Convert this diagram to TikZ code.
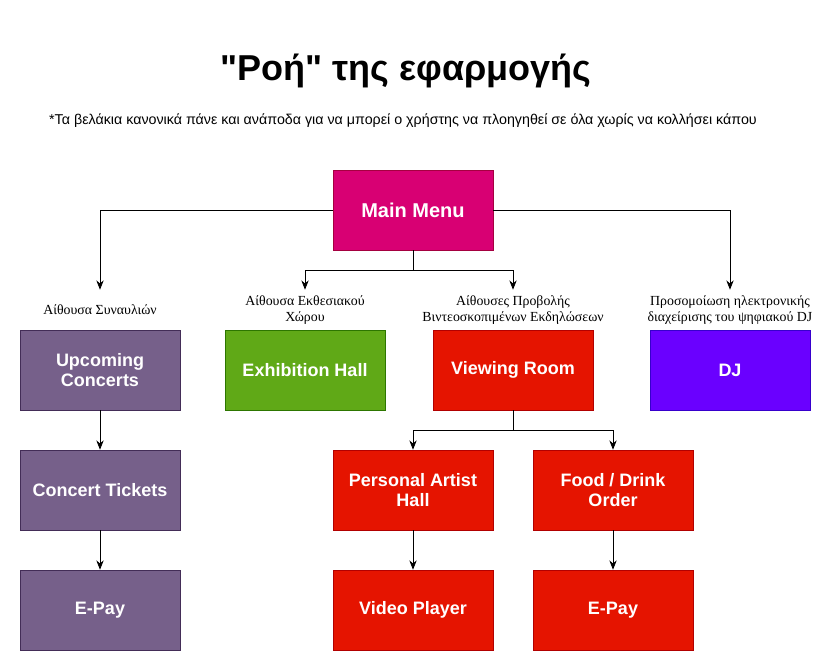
\documentclass[tikz,border=0pt]{standalone}
\usepackage{fontspec}
\setmainfont{Liberation Sans}
\newfontfamily\roomfont{Liberation Serif}
\usetikzlibrary{arrows.meta}

\definecolor{menupink}{HTML}{D80073}
\definecolor{menuline}{HTML}{A50040}
\definecolor{grape}{HTML}{76608A}
\definecolor{grapeline}{HTML}{432D57}
\definecolor{leaf}{HTML}{60A917}
\definecolor{leafline}{HTML}{2D7600}
\definecolor{alarm}{HTML}{E51400}
\definecolor{alarmline}{HTML}{B20000}
\definecolor{violet}{HTML}{6A00FF}
\definecolor{violetline}{HTML}{3700CC}

\begin{document}
\begin{tikzpicture}[x=0.75pt,y=-0.75pt,
    box/.style 2 args={draw=#2, fill=#1, minimum width=120pt, minimum height=60pt,
        text=white, align=center, font=\bfseries\fontsize{13.5}{15.5}\selectfont},
    room/.style={align=center, minimum height=30pt, inner sep=0pt,
        font=\roomfont\fontsize{10.4}{11.5}\selectfont},
    link/.style={-{Stealth[length=7pt,width=5.5pt]}, semithick}]

\useasboundingbox (0,0) rectangle (836,671);

% heading
\node[font=\bfseries\fontsize{27}{31}\selectfont] (title) at (406,71)
    {\textquotedbl Ροή\textquotedbl{} της εφαρμογής};
\node[font=\fontsize{10.7}{12}\selectfont] (note) at (403,121)
    {*Τα βελάκια κανονικά πάνε και ανάποδα για να μπορεί ο χρήστης να πλοηγηθεί σε όλα χωρίς να κολλήσει κάπου};

% main menu
\node[box={menupink}{menuline}, font=\bfseries\fontsize{15}{17}\selectfont] (menu) at (413,210) {Main Menu};

% rooms
\node[room] (lconc) at (100,310) {Αίθουσα Συναυλιών};
\node[room] (lexh)  at (305,310) {Αίθουσα Εκθεσιακού\\Χώρου};
\node[room] (lview) at (513,310) {Αίθουσες Προβολής\\Βιντεοσκοπιμένων Εκδηλώσεων};
\node[room] (ldj)   at (730,310) {Προσομοίωση ηλεκτρονικής\\διαχείρισης του ψηφιακού DJ};

\node[box={grape}{grapeline}] (conc) at (100,370) {Upcoming\\Concerts};
\node[box={leaf}{leafline}]   (exh)  at (305,370) {Exhibition Hall};
\node[box={alarm}{alarmline}] (view) at (513,370) {Viewing Room};
\node[box={violet}{violetline}] (dj) at (730,370) {DJ};

\node[box={grape}{grapeline}] (tick)   at (100,490) {Concert Tickets};
\node[box={alarm}{alarmline}] (artist) at (413,490) {Personal Artist\\Hall};
\node[box={alarm}{alarmline}] (food)   at (613,490) {Food / Drink\\Order};

\node[box={grape}{grapeline}] (payA)  at (100,610) {E-Pay};
\node[box={alarm}{alarmline}] (video) at (413,610) {Video Player};
\node[box={alarm}{alarmline}] (payB)  at (613,610) {E-Pay};

% connectors
\coordinate (split1) at (413,270);
\coordinate (split2) at (513,430);

\draw[link] (menu.west) -| (lconc.north);
\draw[link] (menu.east) -| (ldj.north);
\draw[semithick] (menu.south) -- (split1);
\draw[link] (split1) -| (lexh.north);
\draw[link] (split1) -| (lview.north);

\draw[semithick] (view.south) -- (split2);
\draw[link] (split2) -| (artist.north);
\draw[link] (split2) -| (food.north);

\foreach \a/\b in {conc/tick, tick/payA, artist/video, food/payB}{
    \draw[link] (\a) -- (\b);
}

\end{tikzpicture}
\end{document}
